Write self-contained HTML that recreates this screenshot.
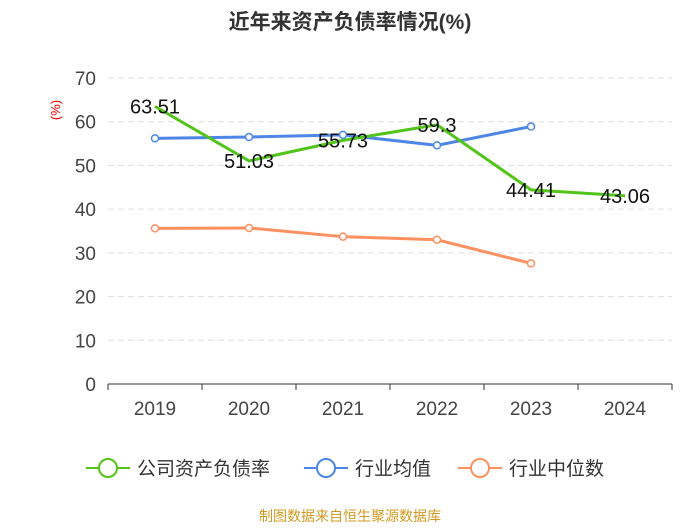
<!DOCTYPE html>
<html><head><meta charset="utf-8"><style>
body{margin:0;background:#fff;width:700px;height:525px;overflow:hidden}
svg text{font-family:"Liberation Sans","Noto Sans CJK SC",sans-serif}
</style></head><body>
<svg id="c" width="700" height="525">
<text x="350" y="29" text-anchor="middle" font-size="21" font-weight="bold" fill="#333">近年来资产负债率情况(%)</text>
<text x="60" y="110" font-size="13" fill="#e00" transform="rotate(-90 60 110)" text-anchor="middle">(%)</text>
<g id="grid"></g><g id="axes"></g><g id="series"></g>
<g font-size="19" fill="#333">
<g><line x1="86" y1="468" x2="130" y2="468" stroke="#52c41a" stroke-width="2"/><circle cx="108" cy="468" r="9" fill="#fff" stroke="#52c41a" stroke-width="2"/><text x="137" y="475">公司资产负债率</text></g>
<g><line x1="304" y1="468" x2="348" y2="468" stroke="#4e86e6" stroke-width="2"/><circle cx="326" cy="468" r="9" fill="#fff" stroke="#4e86e6" stroke-width="2"/><text x="355" y="475">行业均值</text></g>
<g><line x1="458" y1="468" x2="502" y2="468" stroke="#ff9060" stroke-width="2"/><circle cx="480" cy="468" r="9" fill="#fff" stroke="#ff9060" stroke-width="2"/><text x="509" y="475">行业中位数</text></g>
</g>
<text x="350" y="521" text-anchor="middle" font-size="14" fill="#d09a20">制图数据来自恒生聚源数据库</text>
</svg>
<script>
const categories=["2019","2020","2021","2022","2023","2024"];
const company=[63.51,51.03,55.73,59.3,44.41,43.06];
const industryAvg=[56.2,56.5,57.0,54.6,58.9];
const industryMedian=[35.6,35.7,33.7,33.0,27.6];
const yTicks=[0,10,20,30,40,50,60,70];
const companyLabels=["63.51","51.03","55.73","59.3","44.41","43.06"];
const NS="http://www.w3.org/2000/svg";
const x0=108,x1=672,y0=384,yTop=78;
const bw=(x1-x0)/categories.length;
const X=i=>x0+bw*(i+0.5);
const Y=v=>y0-(v/70)*(y0-yTop);
function mk(t,a,p){const e=document.createElementNS(NS,t);for(const k in a)e.setAttribute(k,a[k]);p.appendChild(e);return e;}
const grid=document.getElementById('grid'),axes=document.getElementById('axes'),ser=document.getElementById('series');
yTicks.forEach(v=>{
 if(v>0){const l=mk('line',{x1:x0,x2:x1,y1:Y(v),y2:Y(v),stroke:'#ddd','stroke-dasharray':'6,4'},grid);
 
 }
 const t=mk('text',{x:x0-12,y:Y(v)+7,'text-anchor':'end','font-size':19,fill:'#444'},axes);t.textContent=v;
 
 
});
const ax=mk('line',{x1:x0,x2:x1,y1:y0,y2:y0,stroke:'#333'},axes);


for(let i=0;i<=categories.length;i++)mk('line',{x1:x0+bw*i,x2:x0+bw*i,y1:y0,y2:y0+6,stroke:'#333'},axes);
categories.forEach((c,i)=>{const t=mk('text',{x:X(i),y:y0+31,'text-anchor':'middle','font-size':19,fill:'#444'},axes);t.textContent=c;
 
 });
function line(d,col,name,markers){
 const p=mk('polyline',{points:d.map((v,i)=>X(i)+','+Y(v)).join(' '),fill:'none',stroke:col,'stroke-width':3},ser);
 
 
 if(markers)d.forEach((v,i)=>{const c=mk('circle',{cx:X(i),cy:Y(v),r:3.5,fill:'#fff',stroke:col,'stroke-width':1.5},ser);
 
 });
}
line(industryMedian,'#ff9060','industry-median-line',true);
line(industryAvg,'#4e86e6','industry-avg-line',true);
line(company,'#52c41a','company-line',false);
company.forEach((v,i)=>{const t=mk('text',{x:X(i),y:Y(v)+7,'text-anchor':'middle','font-size':20,fill:'#111'},ser);t.textContent=companyLabels[i];
 
 });
</script>
</body></html>
